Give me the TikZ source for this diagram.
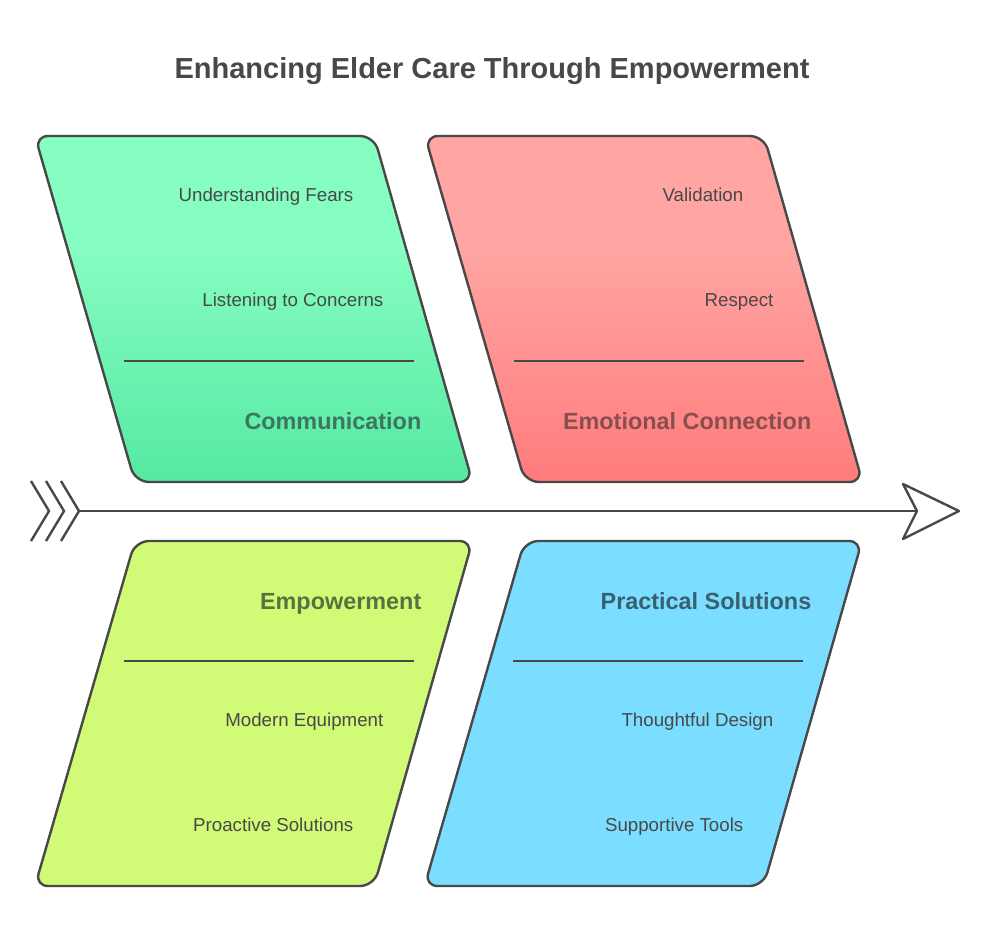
\documentclass[tikz,border=0pt]{standalone}
\usepackage{fontspec}
\setmainfont{Liberation Sans}
\usepackage{tikz}
\usetikzlibrary{positioning,calc}
\definecolor{ink}{HTML}{484848}
\definecolor{commTop}{HTML}{86FDC1}
\definecolor{commBot}{HTML}{55E9A2}
\definecolor{emoTop}{HTML}{FFA5A3}
\definecolor{emoBot}{HTML}{FF7C7C}
\definecolor{empFill}{HTML}{D1FB76}
\definecolor{pracFill}{HTML}{7BDDFF}
\definecolor{commHead}{HTML}{3E7560}
\definecolor{emoHead}{HTML}{8B4E4E}
\definecolor{empHead}{HTML}{5F7040}
\definecolor{pracHead}{HTML}{38616F}
\pgfdeclareverticalshading{commFade}{100bp}{color(0bp)=(commBot); color(25bp)=(commBot); color(59bp)=(commTop); color(100bp)=(commTop)}
\pgfdeclareverticalshading{emoFade}{100bp}{color(0bp)=(emoBot); color(25bp)=(emoBot); color(59bp)=(emoTop); color(100bp)=(emoTop)}

\begin{document}
\begin{tikzpicture}%
	[x=1pt,y=-1pt,
	panel/.style = {draw=ink, line width=2.4pt, line join=round},
	rule/.style = {draw=ink, line width=2.4pt},
	item/.style = {anchor=mid east, inner sep=0pt, text=ink, font=\fontsize{18.7}{22}\selectfont},
	head/.style = {anchor=mid east, inner sep=0pt, font=\fontsize{23.4}{28}\selectfont\bfseries}]
	\useasboundingbox (0,0) rectangle (990,948);
	\node[anchor=mid, inner sep=0pt, text=ink, font=\fontsize{29}{36}\selectfont\bfseries] (title) at (492,75.5) {Enhancing Elder Care Through Empowerment};
	
	% panels
	\path[panel, shading=commFade] (200,136) [rounded corners=14pt] -- (374,136) [rounded corners=13pt] -- (472.5,482) [rounded corners=14pt] -- (135,482) [rounded corners=13pt] -- (35,136) -- cycle;
	\path[panel, shading=emoFade] (590,136) [rounded corners=14pt] -- (764,136) [rounded corners=13pt] -- (862.5,482) [rounded corners=14pt] -- (525,482) [rounded corners=13pt] -- (425,136) -- cycle;
	\path[panel, fill=empFill] (300,541) [rounded corners=13pt] -- (472.5,541) [rounded corners=14pt] -- (374,886) [rounded corners=13pt] -- (35,886) [rounded corners=14pt] -- (135,541) -- cycle;
	\path[panel, fill=pracFill] (690,541) [rounded corners=13pt] -- (862,541) [rounded corners=14pt] -- (763.5,886) [rounded corners=13pt] -- (424.5,886) [rounded corners=14pt] -- (524.5,541) -- cycle;
	
	% dividers
	\coordinate (commL) at (124,361);
	\coordinate (commR) at (414,361);
	\coordinate (emoL) at (514,361);
	\coordinate (emoR) at (804,361);
	\coordinate (empL) at (124,661);
	\coordinate (empR) at (414,661);
	\coordinate (pracL) at (513,661);
	\coordinate (pracR) at (803,661);
	\draw[rule] (commL) -- (commR);
	\draw[rule] (emoL) -- (emoR);
	\draw[rule] (empL) -- (empR);
	\draw[rule] (pracL) -- (pracR);
	
	% labels
	\node[item] (fears) at (353.5,199) {Understanding Fears};
	\node[item] (concerns) at (383.5,304) {Listening to Concerns};
	\node[head, text=commHead] (comm) at (421.5,427) {Communication};
	\node[item] (valid) at (743.5,199) {Validation};
	\node[item] (respect) at (773.5,304) {Respect};
	\node[head, text=emoHead] (emo) at (811.5,427) {Emotional Connection};
	\node[head, text=empHead] (emp) at (421.5,607) {Empowerment};
	\node[item] (equip) at (383.5,724) {Modern Equipment};
	\node[item] (proact) at (353.5,829) {Proactive Solutions};
	\node[head, text=pracHead] (prac) at (811.5,607) {Practical Solutions};
	\node[item] (design) at (773.5,724) {Thoughtful Design};
	\node[item] (tools) at (743.5,829) {Supportive Tools};
	
	% spine
	\coordinate (tail) at (79,511);
	\coordinate (notch) at (917,511);
	\draw[rule] (tail) -- (notch);
	\draw[rule, line join=miter] (31,481) -- (49,511) -- (31,541);
	\draw[rule, line join=miter] (46,481) -- (64,511) -- (46,541);
	\draw[rule, line join=miter] (61,481) -- (tail) -- (61,541);
	\draw[rule, line join=round, fill=white] (903,484) -- (959,511) -- (903,539) -- (notch) -- cycle;
	\end{tikzpicture}
\end{document}
